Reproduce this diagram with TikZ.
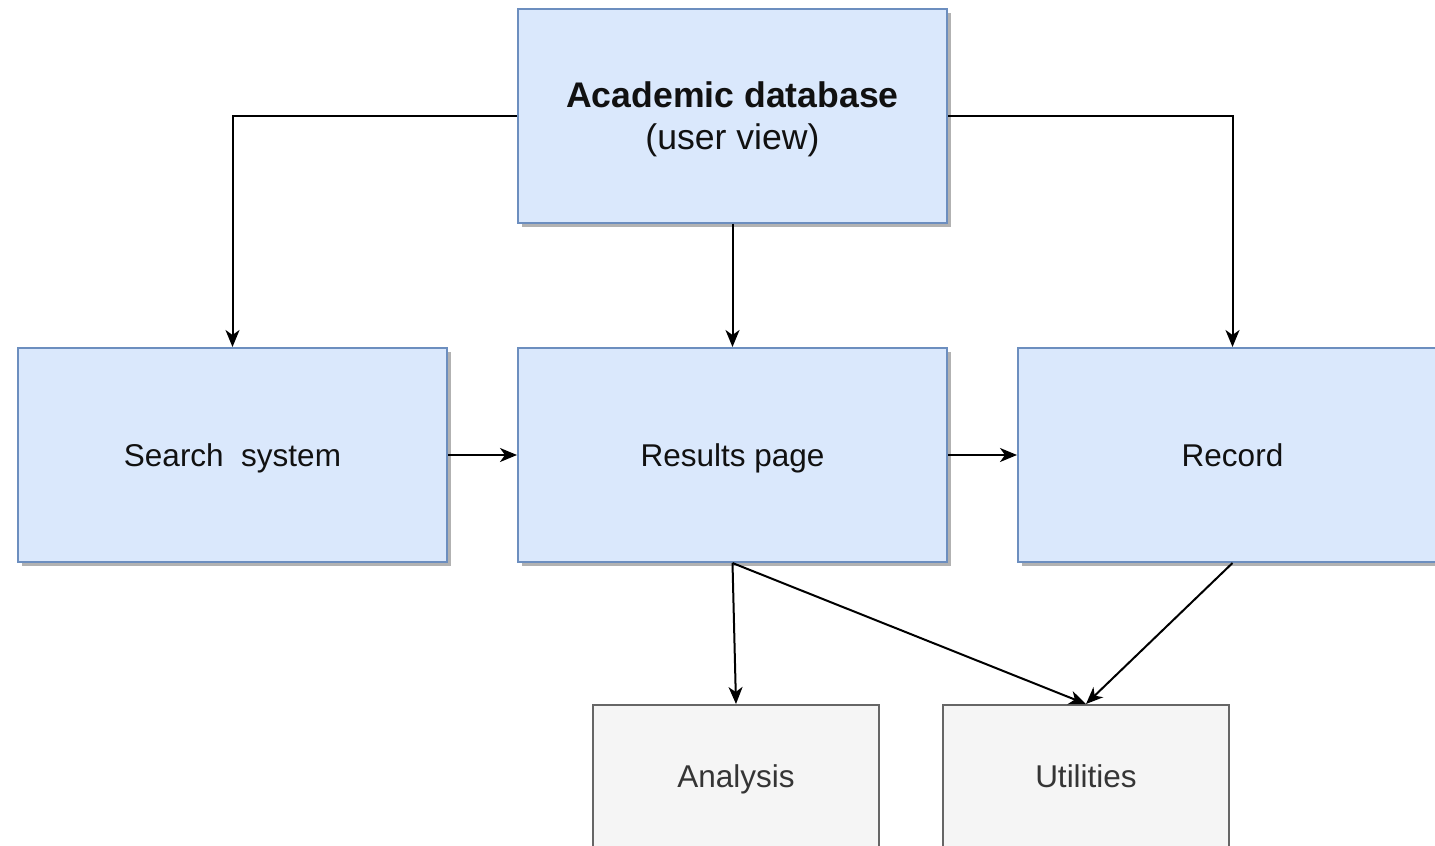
\documentclass[tikz,border=0pt]{standalone}
\usepackage{fontspec}
\setmainfont{Liberation Sans}
\usetikzlibrary{arrows.meta,shadows}
\definecolor{bluefill}{HTML}{DAE8FC}
\definecolor{bluedraw}{HTML}{6C8EBF}
\definecolor{grayfill}{HTML}{F5F5F5}
\definecolor{graydraw}{HTML}{666666}
\definecolor{txt}{HTML}{111111}
\tikzset{
  bluebox/.style={draw=bluedraw, fill=bluefill, line width=2pt, minimum width=429pt, minimum height=214pt,
    inner sep=0pt, text=txt, align=center, text depth=0pt,
    drop shadow={shadow xshift=4pt, shadow yshift=-4pt, fill=black!30, opacity=1},
    font=\fontsize{31.5}{38}\selectfont},
  graybox/.style={draw=graydraw, fill=grayfill, line width=2pt, minimum width=286pt, minimum height=142pt,
    inner sep=0pt, text=txt!85!white, text depth=0pt, font=\fontsize{31.5}{38}\selectfont},
  conn/.style={line width=2pt, -{Stealth[length=17pt, width=14pt, inset=5pt]}}
}
\begin{document}
\begin{tikzpicture}[x=1pt, y=-1pt]
\useasboundingbox (0,0) rectangle (1435,846);
\node[bluebox] (top) at (732.5,115.5) {\fontsize{35.6}{42}\selectfont\textbf{Academic database}\\[4pt]\fontsize{35.6}{42}\selectfont(user view)};
\node[bluebox] (search) at (232.5,455) {Search\ \ system};
\node[bluebox] (res) at (732.5,455) {Results page};
\node[bluebox] (rec) at (1232.5,455) {Record};
\node[graybox] (ana) at (736,776) {Analysis};
\node[graybox] (uti) at (1086,776) {Utilities};
\draw[conn] (top.west) -| (search.north);
\draw[conn] (top.south) -- (res.north);
\draw[conn] (top.east) -| (rec.north);
\draw[conn] (search.east) -- (res.west);
\draw[conn] (res.east) -- (rec.west);
\draw[conn] (res.south) -- (ana.north);
\draw[conn] (res.south) -- (uti.north);
\draw[conn] (rec.south) -- (uti.north);
\end{tikzpicture}
\end{document}
